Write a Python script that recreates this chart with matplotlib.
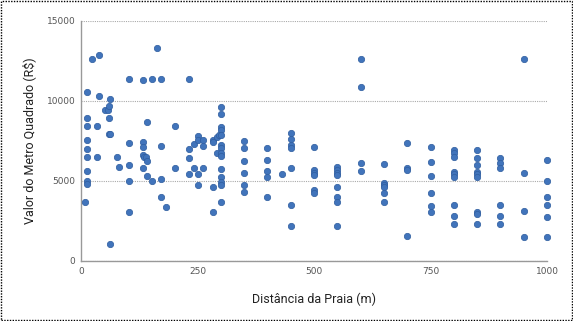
import matplotlib
matplotlib.use("Agg")
import matplotlib.pyplot as plt
from matplotlib.patches import Rectangle

# Irregularly spaced points (0 - 300 m)
near_dist = [
    12, 23, 39, 12, 12, 12, 12, 12, 12, 12, 12, 9,
    34, 34, 39, 51, 59, 61, 63, 60, 60, 63, 63, 78, 82,
    103, 103, 103, 103, 103,
    132, 132, 132, 132, 135, 140, 141, 132, 142, 142, 153, 153, 163,
    172, 172, 172, 172, 182, 202, 202,
    232, 232, 232, 232, 243, 243, 252, 252, 252, 252, 262, 262, 262,
    283, 283, 283, 283, 291, 291, 297,
]
near_valor = [
    10580, 12600, 12850, 8960, 8440, 7540, 7000, 6500, 5600, 5000, 4800, 3690,
    8440, 6500, 10310, 9440, 9440, 9690, 10150, 8920, 7920, 7920, 1040, 6500, 5880,
    11400, 7350, 5980, 4980, 3080,
    11290, 7420, 7130, 6620, 6520, 6520, 6270, 5830, 8690, 5330, 4980, 11400, 13330,
    11400, 7210, 5130, 3980, 3400, 8420, 5790,
    11400, 7000, 6420, 5440, 7290, 5790, 7810, 7560, 5440, 4750, 7560, 7190, 5790,
    7560, 7420, 4600, 3080, 7770, 6730, 7875,
]

# Points grouped in columns at regular distances
col_dist = [300, 350, 400, 431, 450, 500, 550, 600, 650, 700, 750, 800, 850, 900, 950, 1000]
col_valor = [
    [9640, 9190, 8400, 8190, 7875, 7250, 7040, 6730, 6560, 5750, 5270, 4960, 4750, 3710],
    [7500, 7060, 6230, 5520, 4750, 4330],
    [7060, 6310, 5650, 5230, 3980],
    [5460],
    [7980, 7625, 7250, 7080, 5790, 3500, 2210],
    [7125, 5690, 5520, 5355, 4440, 4230],
    [5850, 5690, 5520, 5350, 4645, 3980, 3670, 2210],
    [12600, 10850, 6100, 5650],
    [6060, 4900, 4750, 4645, 4230, 3670],
    [7350, 5830, 5690, 1560],
    [7150, 6170, 5330, 4230, 3460, 3080],
    [6940, 6730, 6520, 5580, 5420, 5270, 3500, 2810, 2310],
    [6940, 6460, 6000, 5580, 5420, 5270, 3080, 2940, 2310],
    [6460, 6150, 5830, 3500, 2810, 2310],
    [12600, 5480, 3125, 1520],
    [6310, 4980, 3980, 3480, 2730, 1520],
]

x_ticks = [0, 250, 500, 750, 1000]
y_ticks = [0, 5000, 10000, 15000]
x_label = "Distância da Praia (m)"
y_label = "Valor do Metro Quadrado (R$)"

distancia = list(near_dist)
valor = list(near_valor)
for d, vals in zip(col_dist, col_valor):
    distancia += [d] * len(vals)
    valor += vals

fig = plt.figure(figsize=(5.73, 3.21), dpi=100)
ax = fig.add_axes([81/573, 1 - 261/321, (547 - 81)/573, (261 - 21)/321])

ax.scatter(distancia, valor, s=21, color="#4174bb", edgecolors="#2f5d9f",
           linewidths=0.5, zorder=3, clip_on=False)

ax.set_xlim(0, 1000)
ax.set_ylim(0, 15000)
ax.set_xticks(x_ticks)
ax.set_yticks(y_ticks)
ax.tick_params(axis="both", labelsize=6.5, colors="#555555", length=0, pad=4)
ax.grid(axis="y", linestyle=(0, (1, 1)), color="#aaaaaa", linewidth=0.8)
ax.set_axisbelow(True)
for s in ["top", "right"]:
    ax.spines[s].set_visible(False)
for s in ["left", "bottom"]:
    ax.spines[s].set_color("#999999")
    ax.spines[s].set_linewidth(1.0)

ax.set_xlabel(x_label, fontsize=9, color="#222222", labelpad=12, family="Roboto")
ax.set_ylabel(y_label, fontsize=9, color="#222222", labelpad=8, family="Roboto")

fig.patches.append(Rectangle((0.002, 0.003), 0.996, 0.994, transform=fig.transFigure,
                             fill=False, edgecolor="black", linestyle=(0, (1, 1)),
                             linewidth=1.0))

fig.savefig("out.png", dpi=100)
